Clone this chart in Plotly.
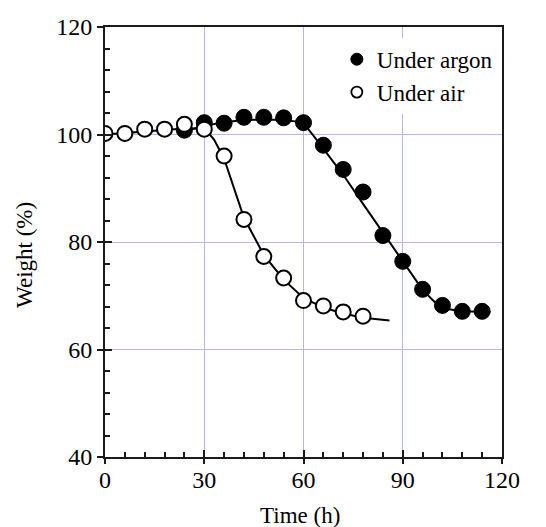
import plotly.graph_objects as go

# ---- data ----
time_argon = [24, 30, 36, 42, 48, 54, 60, 66, 72, 78, 84, 90, 96, 102, 108, 114]
weight_argon = [100.8, 102.2, 102.1, 103.2, 103.2, 103.1, 102.2, 98.0, 93.5, 89.3,
                81.2, 76.4, 71.2, 68.2, 67.1, 67.1]

time_air = [0, 6, 12, 18, 24, 30, 36, 42, 48, 54, 60, 66, 72, 78]
weight_air = [100.2, 100.2, 101.0, 101.0, 101.9, 101.0, 96.0, 84.2, 77.3, 73.3,
              69.1, 68.1, 67.0, 66.2]

# fitted guide curves (knots)
fit_argon_t = [24, 30, 36, 42, 48, 54, 58, 60.5, 63, 66, 72, 78, 84, 90, 96, 100, 104, 108, 116.5]
fit_argon_w = [100.6, 101.6, 102.3, 102.7, 102.8, 102.7, 102.4, 101.7, 99.8, 97.4, 92.5,
               87.1, 81.7, 76.4, 71.1, 68.6, 67.5, 67.1, 67.0]

fit_air_t = [0, 6, 12, 18, 24, 29, 31, 33, 36, 42, 48, 54, 60, 66, 72, 78, 86]
fit_air_w = [100.0, 100.3, 100.6, 100.9, 101.1, 101.1, 100.5, 99.0, 95.5, 84.5, 77.6,
             73.0, 69.6, 67.8, 66.7, 65.9, 65.4]

x_ticks = [0, 30, 60, 90, 120]
y_ticks = [40, 60, 80, 100, 120]

FONT = "Liberation Serif"
AX = "#1a1a1a"
GRID = "#b4b4f0"

fig = go.Figure()

fig.add_trace(go.Scatter(x=fit_argon_t, y=fit_argon_w, mode="lines",
                         line=dict(color="black", width=2), showlegend=False,
                         hoverinfo="skip"))
fig.add_trace(go.Scatter(x=fit_air_t, y=fit_air_w, mode="lines",
                         line=dict(color="black", width=2), showlegend=False,
                         hoverinfo="skip"))
fig.add_trace(go.Scatter(x=time_argon, y=weight_argon, mode="markers",
                         marker=dict(symbol="circle", size=16, color="black",
                                     line=dict(color="black", width=1)),
                         showlegend=False))
fig.add_trace(go.Scatter(x=time_air, y=weight_air, mode="markers",
                         marker=dict(symbol="circle", size=15, color="white",
                                     line=dict(color="black", width=2)),
                         showlegend=False))
# legend entries
fig.add_trace(go.Scatter(x=[None], y=[None], mode="markers", name="Under argon",
                         marker=dict(symbol="circle", size=12, color="black",
                                     line=dict(color="black", width=1))))
fig.add_trace(go.Scatter(x=[None], y=[None], mode="markers", name="Under air",
                         marker=dict(symbol="circle", size=11, color="white",
                                     line=dict(color="black", width=1.8))))
# helper trace for overlay axes carrying outward half of major ticks
fig.add_trace(go.Scatter(x=[None], y=[None], xaxis="x2", yaxis="y2",
                         showlegend=False, hoverinfo="skip"))

fig.update_layout(
    width=538, height=519,
    margin=dict(l=97, r=44, t=19, b=70),
    paper_bgcolor="white", plot_bgcolor="white",
    font=dict(family=FONT, size=23, color="black"),
    xaxis=dict(range=[0, 120], tickvals=x_ticks, showgrid=True, gridcolor=GRID,
               gridwidth=1, zeroline=False, showline=True, linecolor=AX,
               linewidth=2, mirror=True, ticks="inside", ticklen=7,
               tickwidth=2, tickcolor=AX, automargin=False, ticklabelstandoff=0,
               minor=dict(dtick=6, ticks="inside", ticklen=5, tickwidth=1.5,
                          tickcolor=AX, showgrid=False),
               tickfont=dict(size=24)),
    yaxis=dict(range=[40, 120], tickvals=y_ticks, showgrid=True, gridcolor=GRID,
               gridwidth=1, zeroline=False, showline=True, linecolor=AX,
               linewidth=2, mirror=True, ticks="inside", ticklen=7,
               tickwidth=2, tickcolor=AX, automargin=False, ticklabelstandoff=6,
               minor=dict(dtick=4, ticks="inside", ticklen=5, tickwidth=1.5,
                          tickcolor=AX, showgrid=False),
               tickfont=dict(size=24)),
    xaxis2=dict(overlaying="x", matches="x", range=[0, 120], tickvals=x_ticks,
                ticks="outside", ticklen=6, tickwidth=2, tickcolor=AX,
                showticklabels=False, showgrid=False, showline=False,
                zeroline=False, anchor="y2", side="bottom", automargin=False),
    yaxis2=dict(overlaying="y", matches="y", range=[40, 120], tickvals=y_ticks,
                ticks="outside", ticklen=7, tickwidth=2, tickcolor=AX,
                showticklabels=False, showgrid=False, showline=False,
                zeroline=False, anchor="x2", side="left", automargin=False),
    legend=dict(x=0.584, y=0.975, xanchor="left", yanchor="top",
                bgcolor="white", borderwidth=0, font=dict(size=23),
                itemsizing="trace", tracegroupgap=0),
    annotations=[
        dict(text="Weight (%)", textangle=-90, xref="paper", yref="paper",
             x=-0.2015, y=0.47, xanchor="center", yanchor="middle",
             showarrow=False, font=dict(size=23)),
        dict(text="Time (h)", xref="paper", yref="paper",
             x=0.49, y=-0.135, xanchor="center", yanchor="middle",
             showarrow=False, font=dict(size=23)),
    ],
)

fig.write_html("out.html")
